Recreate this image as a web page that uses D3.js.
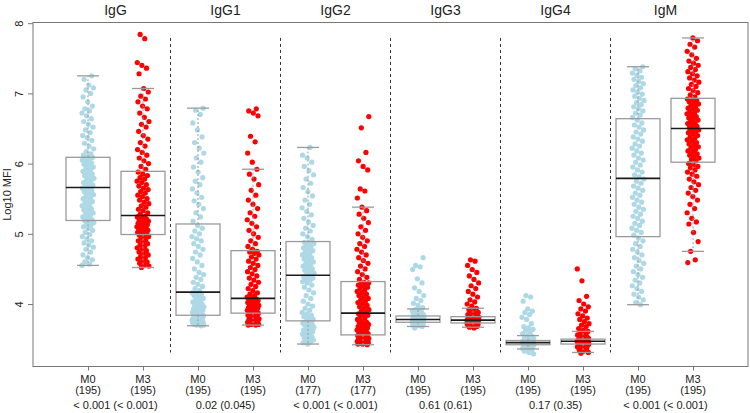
<!DOCTYPE html>
<html>
<head>
<meta charset="utf-8">
<script src="https://cdn.jsdelivr.net/npm/d3@7"></script>
<style>
  html, body { margin: 0; padding: 0; background: #fff; }
  svg { display: block; font-family: "Liberation Sans", Arial, Helvetica, sans-serif; }
</style>
</head>
<body>
<svg id="chart" width="750" height="413"></svg>
<script>
// ---------- data ----------
const groups = ["IgG", "IgG1", "IgG2", "IgG3", "IgG4", "IgM"];
const timepoints = ["M0", "M3"];
const nCounts = [195, 195, 195, 195, 177, 177, 195, 195, 195, 195, 195, 195];
const pLabels = ["< 0.001 (< 0.001)", "0.02 (0.045)", "< 0.001 (< 0.001)", "0.61 (0.61)", "0.17 (0.35)", "< 0.001 (< 0.001)"];
const yTicks = [4, 5, 6, 7, 8];

// box statistics per box (IgG M0, IgG M3, IgG1 M0, ...)
const whiskerLow  = [4.55, 4.52, 3.69, 3.70, 3.43, 3.42, 3.68, 3.67, 3.36, 3.31, 3.99, 4.75];
const quartile1   = [5.19, 4.99, 3.84, 3.87, 3.76, 3.56, 3.74, 3.73, 3.42, 3.43, 4.96, 6.02];
const medians     = [5.66, 5.26, 4.17, 4.08, 4.41, 3.87, 3.78, 3.77, 3.45, 3.47, 5.79, 6.50];
const quartile3   = [6.09, 5.89, 5.14, 4.76, 4.89, 4.32, 3.83, 3.82, 3.48, 3.50, 6.64, 6.93];
const whiskerHigh = [7.25, 7.07, 6.79, 5.92, 6.23, 5.38, 3.93, 3.94, 3.55, 3.61, 7.38, 7.79];

// individual measurements (Log10 MFI)
const IgG_M0 = [4.55,4.57,4.60,4.63,4.66,4.70,4.74,4.78,4.81,4.84,4.87,4.90,4.93,4.96,4.99,5.02,5.05,5.08,5.10,5.12,5.14,5.16,5.18,5.19,5.20,
  5.22,5.24,5.26,5.28,5.30,5.32,5.34,5.36,5.38,5.40,5.42,5.44,5.46,5.48,5.50,5.52,5.54,5.56,5.58,5.60,5.62,5.64,5.65,5.66,5.67,
  5.69,5.71,5.73,5.75,5.77,5.79,5.81,5.83,5.85,5.87,5.89,5.91,5.93,5.95,5.97,5.99,6.01,6.03,6.05,6.07,6.08,6.09,6.10,6.12,6.14,
  6.17,6.21,6.25,6.29,6.33,6.37,6.40,6.44,6.48,6.52,6.56,6.60,6.64,6.68,6.72,6.75,6.78,6.82,6.88,6.95,7.00,7.05,7.08,7.12,7.20,7.25];
const IgG_M3 = [4.52,4.54,4.56,4.58,4.60,4.62,4.64,4.66,4.68,4.70,4.72,4.74,4.76,4.78,4.80,4.82,4.84,4.86,4.88,4.90,4.92,4.94,4.96,4.97,4.98,
  5.00,5.01,5.02,5.03,5.04,5.05,5.06,5.07,5.08,5.09,5.10,5.11,5.12,5.13,5.14,5.15,5.16,5.17,5.18,5.19,5.20,5.21,5.22,5.24,5.25,
  5.28,5.30,5.33,5.35,5.38,5.40,5.43,5.45,5.48,5.50,5.53,5.55,5.58,5.60,5.63,5.65,5.68,5.70,5.73,5.75,5.78,5.80,5.83,5.85,5.88,
  5.92,5.96,6.00,6.04,6.08,6.12,6.16,6.20,6.25,6.30,6.35,6.40,6.46,6.52,6.56,6.60,6.66,6.72,6.78,6.82,6.88,6.92,6.96,7.02,7.07,
  7.28,7.36,7.40,7.44,7.78,7.84];
const IgG1_M0 = [3.69,3.70,3.70,3.71,3.71,3.72,3.72,3.73,3.73,3.74,3.74,3.75,3.75,3.76,3.76,3.77,3.77,3.78,3.79,3.80,3.80,3.81,3.82,3.83,3.84,
  3.85,3.86,3.87,3.88,3.89,3.90,3.91,3.92,3.93,3.94,3.95,3.96,3.97,3.98,4.00,4.01,4.03,4.04,4.06,4.08,4.10,4.12,4.13,4.15,4.16,
  4.19,4.22,4.25,4.28,4.31,4.35,4.38,4.42,4.45,4.50,4.55,4.60,4.65,4.70,4.74,4.78,4.82,4.86,4.90,4.93,4.96,5.00,5.04,5.08,5.12,
  5.18,5.24,5.30,5.36,5.42,5.47,5.52,5.58,5.64,5.70,5.75,5.80,5.88,5.95,6.02,6.08,6.15,6.22,6.30,6.38,6.48,6.58,6.70,6.76,6.79];
const IgG1_M3 = [3.70,3.70,3.71,3.71,3.72,3.72,3.73,3.73,3.74,3.74,3.75,3.75,3.76,3.77,3.77,3.78,3.79,3.80,3.81,3.82,3.83,3.84,3.85,3.86,3.87,
  3.88,3.89,3.90,3.90,3.91,3.92,3.93,3.94,3.95,3.95,3.96,3.97,3.98,3.99,4.00,4.00,4.01,4.02,4.03,4.04,4.05,4.06,4.06,4.07,4.08,
  4.10,4.12,4.14,4.16,4.19,4.22,4.25,4.28,4.31,4.34,4.37,4.40,4.43,4.46,4.49,4.52,4.55,4.58,4.61,4.64,4.67,4.70,4.72,4.74,4.75,
  4.78,4.82,4.86,4.90,4.95,5.00,5.05,5.10,5.15,5.20,5.25,5.30,5.36,5.42,5.48,5.55,5.62,5.70,5.78,5.85,5.92,
  6.02,6.15,6.31,6.39,6.68,6.72,6.75,6.78];
const IgG2_M0 = [3.43,3.45,3.46,3.48,3.49,3.51,3.52,3.54,3.55,3.57,3.58,3.60,3.61,3.62,3.63,3.65,3.66,3.67,3.68,3.70,3.71,3.72,3.73,3.74,3.75,
  3.78,3.80,3.82,3.84,3.86,3.88,3.91,3.94,3.97,4.00,4.04,4.08,4.12,4.16,4.20,4.24,4.27,4.30,4.32,4.34,4.36,4.37,4.38,4.39,4.40,
  4.42,4.44,4.46,4.48,4.50,4.52,4.54,4.56,4.58,4.60,4.62,4.64,4.66,4.68,4.70,4.72,4.74,4.76,4.78,4.80,4.82,4.84,4.86,4.87,4.88,
  4.92,4.96,5.00,5.04,5.08,5.12,5.17,5.22,5.27,5.32,5.37,5.42,5.48,5.54,5.60,5.66,5.72,5.78,5.84,5.90,5.96,6.02,6.08,6.12,6.23];
const IgG2_M3 = [3.42,3.43,3.43,3.44,3.44,3.45,3.45,3.46,3.46,3.47,3.47,3.48,3.48,3.49,3.49,3.50,3.50,3.51,3.51,3.52,3.52,3.53,3.54,3.55,3.56,
  3.57,3.58,3.59,3.60,3.61,3.62,3.63,3.64,3.65,3.66,3.67,3.68,3.69,3.70,3.71,3.72,3.73,3.74,3.76,3.78,3.80,3.82,3.84,3.85,3.86,
  3.88,3.90,3.92,3.94,3.96,3.98,4.00,4.02,4.04,4.06,4.08,4.10,4.12,4.14,4.16,4.18,4.20,4.22,4.24,4.26,4.27,4.28,4.29,4.30,4.31,
  4.35,4.38,4.42,4.46,4.50,4.54,4.58,4.62,4.66,4.70,4.74,4.78,4.82,4.86,4.90,4.95,5.00,5.05,5.10,5.16,5.22,5.28,5.33,5.38,
  5.51,5.61,5.64,5.91,5.96,6.04,6.16,6.51,6.67];
const IgG3_M0 = [3.66,3.68,3.69,3.70,3.70,3.71,3.71,3.72,3.72,3.73,3.73,3.74,3.74,3.74,3.75,3.75,3.75,3.76,3.76,3.76,3.77,3.77,3.77,3.78,3.78,
  3.78,3.79,3.79,3.79,3.80,3.80,3.80,3.81,3.81,3.81,3.82,3.82,3.83,3.83,3.84,3.85,3.86,3.87,3.88,3.89,3.90,3.91,3.92,3.95,3.98,
  4.01,4.05,4.08,4.12,4.18,4.23,4.30,4.36,4.49,4.53,4.55,4.66];
const IgG3_M3 = [3.66,3.67,3.68,3.69,3.70,3.70,3.71,3.71,3.72,3.72,3.73,3.73,3.73,3.74,3.74,3.74,3.75,3.75,3.75,3.76,3.76,3.76,3.77,3.77,3.77,
  3.78,3.78,3.78,3.79,3.79,3.80,3.80,3.81,3.81,3.82,3.82,3.83,3.84,3.85,3.86,3.87,3.88,3.90,3.92,3.94,3.97,4.00,4.03,4.06,4.10,
  4.14,4.18,4.22,4.26,4.30,4.35,4.40,4.45,4.49,4.55,4.61,4.63];
const IgG4_M0 = [3.29,3.31,3.33,3.35,3.36,3.37,3.38,3.39,3.40,3.40,3.41,3.41,3.42,3.42,3.42,3.43,3.43,3.43,3.44,3.44,3.44,3.45,3.45,3.45,3.46,
  3.46,3.46,3.47,3.47,3.47,3.48,3.48,3.49,3.50,3.51,3.52,3.53,3.54,3.55,3.58,3.60,3.62,3.64,3.66,3.68,3.72,3.78,3.81,3.85,3.88,
  3.90,3.93,4.04,4.10,4.12];
const IgG4_M3 = [3.30,3.31,3.33,3.35,3.37,3.38,3.39,3.40,3.40,3.41,3.41,3.42,3.42,3.43,3.43,3.43,3.44,3.44,3.44,3.45,3.45,3.45,3.46,3.46,3.46,
  3.47,3.47,3.47,3.48,3.48,3.48,3.49,3.49,3.50,3.50,3.51,3.52,3.53,3.54,3.55,3.56,3.58,3.60,3.61,3.63,3.65,3.68,3.70,3.72,3.75,
  3.78,3.80,3.83,3.86,3.90,3.93,3.96,4.00,4.05,4.11,4.33,4.50];
const IgM_M0 = [3.99,4.02,4.06,4.10,4.14,4.18,4.22,4.26,4.30,4.34,4.38,4.42,4.46,4.50,4.54,4.58,4.62,4.66,4.70,4.74,4.78,4.82,4.86,4.90,4.94,
  4.98,5.02,5.05,5.08,5.12,5.15,5.18,5.22,5.25,5.28,5.32,5.35,5.38,5.42,5.45,5.48,5.52,5.55,5.58,5.62,5.65,5.68,5.72,5.75,5.78,
  5.81,5.84,5.88,5.91,5.95,5.98,6.02,6.05,6.08,6.12,6.15,6.18,6.22,6.25,6.28,6.32,6.35,6.38,6.42,6.45,6.48,6.52,6.55,6.58,6.62,
  6.66,6.69,6.72,6.75,6.78,6.81,6.84,6.87,6.90,6.93,6.96,6.99,7.02,7.05,7.08,7.11,7.14,7.17,7.20,7.23,7.26,7.29,7.32,7.35,7.38];
const IgM_M3 = [4.59,4.63,4.75,4.89,5.02,5.14,5.17,5.22,5.30,5.36,5.42,5.48,5.53,5.58,5.62,5.66,5.70,5.74,5.78,5.82,5.85,5.88,5.91,5.94,5.96,5.98,6.00,
  6.04,6.06,6.08,6.10,6.12,6.14,6.16,6.18,6.20,6.22,6.24,6.26,6.28,6.30,6.32,6.34,6.36,6.38,6.40,6.42,6.44,6.45,6.46,6.48,6.49,
  6.51,6.53,6.55,6.57,6.58,6.60,6.62,6.64,6.65,6.67,6.69,6.71,6.72,6.74,6.76,6.78,6.79,6.81,6.83,6.85,6.86,6.88,6.90,6.91,6.92,
  6.95,6.98,7.01,7.04,7.07,7.10,7.13,7.16,7.19,7.22,7.25,7.28,7.31,7.34,7.37,7.40,7.43,7.46,7.50,7.55,7.60,7.66,7.70,7.75,7.79];

const pointSets = [IgG_M0, IgG_M3, IgG1_M0, IgG1_M3, IgG2_M0, IgG2_M3, IgG3_M0, IgG3_M3, IgG4_M0, IgG4_M3, IgM_M0, IgM_M3];
const timeColors = ["#ADD8E6", "#FF0000"];

// ---------- drawing ----------
const svg = d3.select("#chart");
const plot = { left: 33, right: 748, top: 22.5, bottom: 366.5 };

const x = d3.scaleLinear().domain([0, 13]).range([plot.left, plot.right]);
const y = d3.scaleLinear().domain([3.11, 8.01]).range([plot.bottom, plot.top]);

const boxes = d3.range(12).map(i => ({
  i, pos: i + 1, group: groups[Math.floor(i / 2)], time: timepoints[i % 2],
  lw: whiskerLow[i], q1: quartile1[i], med: medians[i], q3: quartile3[i], uw: whiskerHigh[i],
  n: nCounts[i], pts: pointSets[i], color: timeColors[i % 2]
}));

const boxW = 0.8;
const capW = 0.4;
const gray = "#9a9a9a";

// jittered points (drawn first, boxes overlaid without fill)
const jitterAmt = 0.11;
const gPts = svg.append("g");
boxes.forEach(b => {
  gPts.selectAll(null).data(b.pts).enter().append("circle")
    .attr("cx", (v, k) => {
      const f = ((k * 0.6180339887 + b.i * 0.37) % 1);
      return x(b.pos + (f - 0.5) * 2 * jitterAmt);
    })
    .attr("cy", v => y(v))
    .attr("r", 2.6)
    .attr("fill", b.color);
});

const gBox = svg.append("g");
boxes.forEach(b => {
  const g = gBox.append("g");
  g.append("line").attr("x1", x(b.pos)).attr("x2", x(b.pos))
    .attr("y1", y(b.q3)).attr("y2", y(b.uw))
    .attr("stroke", gray).attr("stroke-width", 1).attr("stroke-dasharray", "2,2");
  g.append("line").attr("x1", x(b.pos)).attr("x2", x(b.pos))
    .attr("y1", y(b.q1)).attr("y2", y(b.lw))
    .attr("stroke", gray).attr("stroke-width", 1).attr("stroke-dasharray", "2,2");
  [b.uw, b.lw].forEach(v => {
    g.append("line").attr("x1", x(b.pos - capW / 2)).attr("x2", x(b.pos + capW / 2))
      .attr("y1", y(v)).attr("y2", y(v)).attr("stroke", gray).attr("stroke-width", 1.3);
  });
  g.append("rect").attr("x", x(b.pos - boxW / 2)).attr("width", x(b.pos + boxW / 2) - x(b.pos - boxW / 2))
    .attr("y", y(b.q3)).attr("height", y(b.q1) - y(b.q3))
    .attr("fill", "none").attr("stroke", gray).attr("stroke-width", 1.3);
  g.append("line").attr("x1", x(b.pos - boxW / 2)).attr("x2", x(b.pos + boxW / 2))
    .attr("y1", y(b.med)).attr("y2", y(b.med)).attr("stroke", "#1a1a1a").attr("stroke-width", 1.6);
});

// group separators
const sepPositions = [2.5, 4.5, 6.5, 8.5, 10.5];
svg.append("g").selectAll("line").data(sepPositions).enter().append("line")
  .attr("x1", d => x(d)).attr("x2", d => x(d))
  .attr("y1", y(7.79)).attr("y2", y(3.31))
  .attr("stroke", "#333").attr("stroke-width", 1).attr("stroke-dasharray", "3,3");

// plot frame
svg.append("rect").attr("x", plot.left).attr("y", plot.top)
  .attr("width", plot.right - plot.left).attr("height", plot.bottom - plot.top)
  .attr("fill", "none").attr("stroke", "#777").attr("stroke-width", 1);

// y axis
const yAxis = d3.axisLeft(y).tickValues(yTicks).tickSize(5).tickFormat(d3.format("d"));
const gy = svg.append("g").attr("transform", `translate(${plot.left},0)`).call(yAxis);
gy.select(".domain").remove();
gy.selectAll(".tick line").attr("stroke", "#777");
gy.selectAll(".tick text")
  .attr("font-size", 11).attr("fill", "#222")
  .attr("x", null)
  .attr("text-anchor", "middle")
  .attr("transform", "translate(-14,0) rotate(-90)")
  .attr("y", 0).attr("dy", "0.35em");
svg.append("text")
  .attr("transform", `translate(7,${(plot.top + plot.bottom) / 2}) rotate(-90)`)
  .attr("text-anchor", "middle").attr("font-size", 11).attr("fill", "#222")
  .attr("dy", "0.35em")
  .text("Log10 MFI");

// x axis ticks and labels
const xAxis = d3.axisBottom(x).tickValues(boxes.map(b => b.pos)).tickSize(4).tickFormat("");
const gx = svg.append("g").attr("transform", `translate(0,${plot.bottom})`).call(xAxis);
gx.select(".domain").remove();
gx.selectAll(".tick line").attr("stroke", "#777");

const gxl = svg.append("g").attr("font-size", 11).attr("fill", "#222").attr("text-anchor", "middle");
boxes.forEach(b => {
  gxl.append("text").attr("x", x(b.pos)).attr("y", 382.5).text(b.time);
  gxl.append("text").attr("x", x(b.pos)).attr("y", 393.5).text(`(${b.n})`);
});
groups.forEach((gName, gi) => {
  gxl.append("text").attr("x", x(gi * 2 + 1.5)).attr("y", 409).text(pLabels[gi]);
});

// group titles
svg.append("g").selectAll("text").data(groups).enter().append("text")
  .attr("x", (d, gi) => x(gi * 2 + 1.5)).attr("y", 15)
  .attr("text-anchor", "middle").attr("font-size", 14).attr("fill", "#222")
  .text(d => d);
</script>
</body>
</html>
